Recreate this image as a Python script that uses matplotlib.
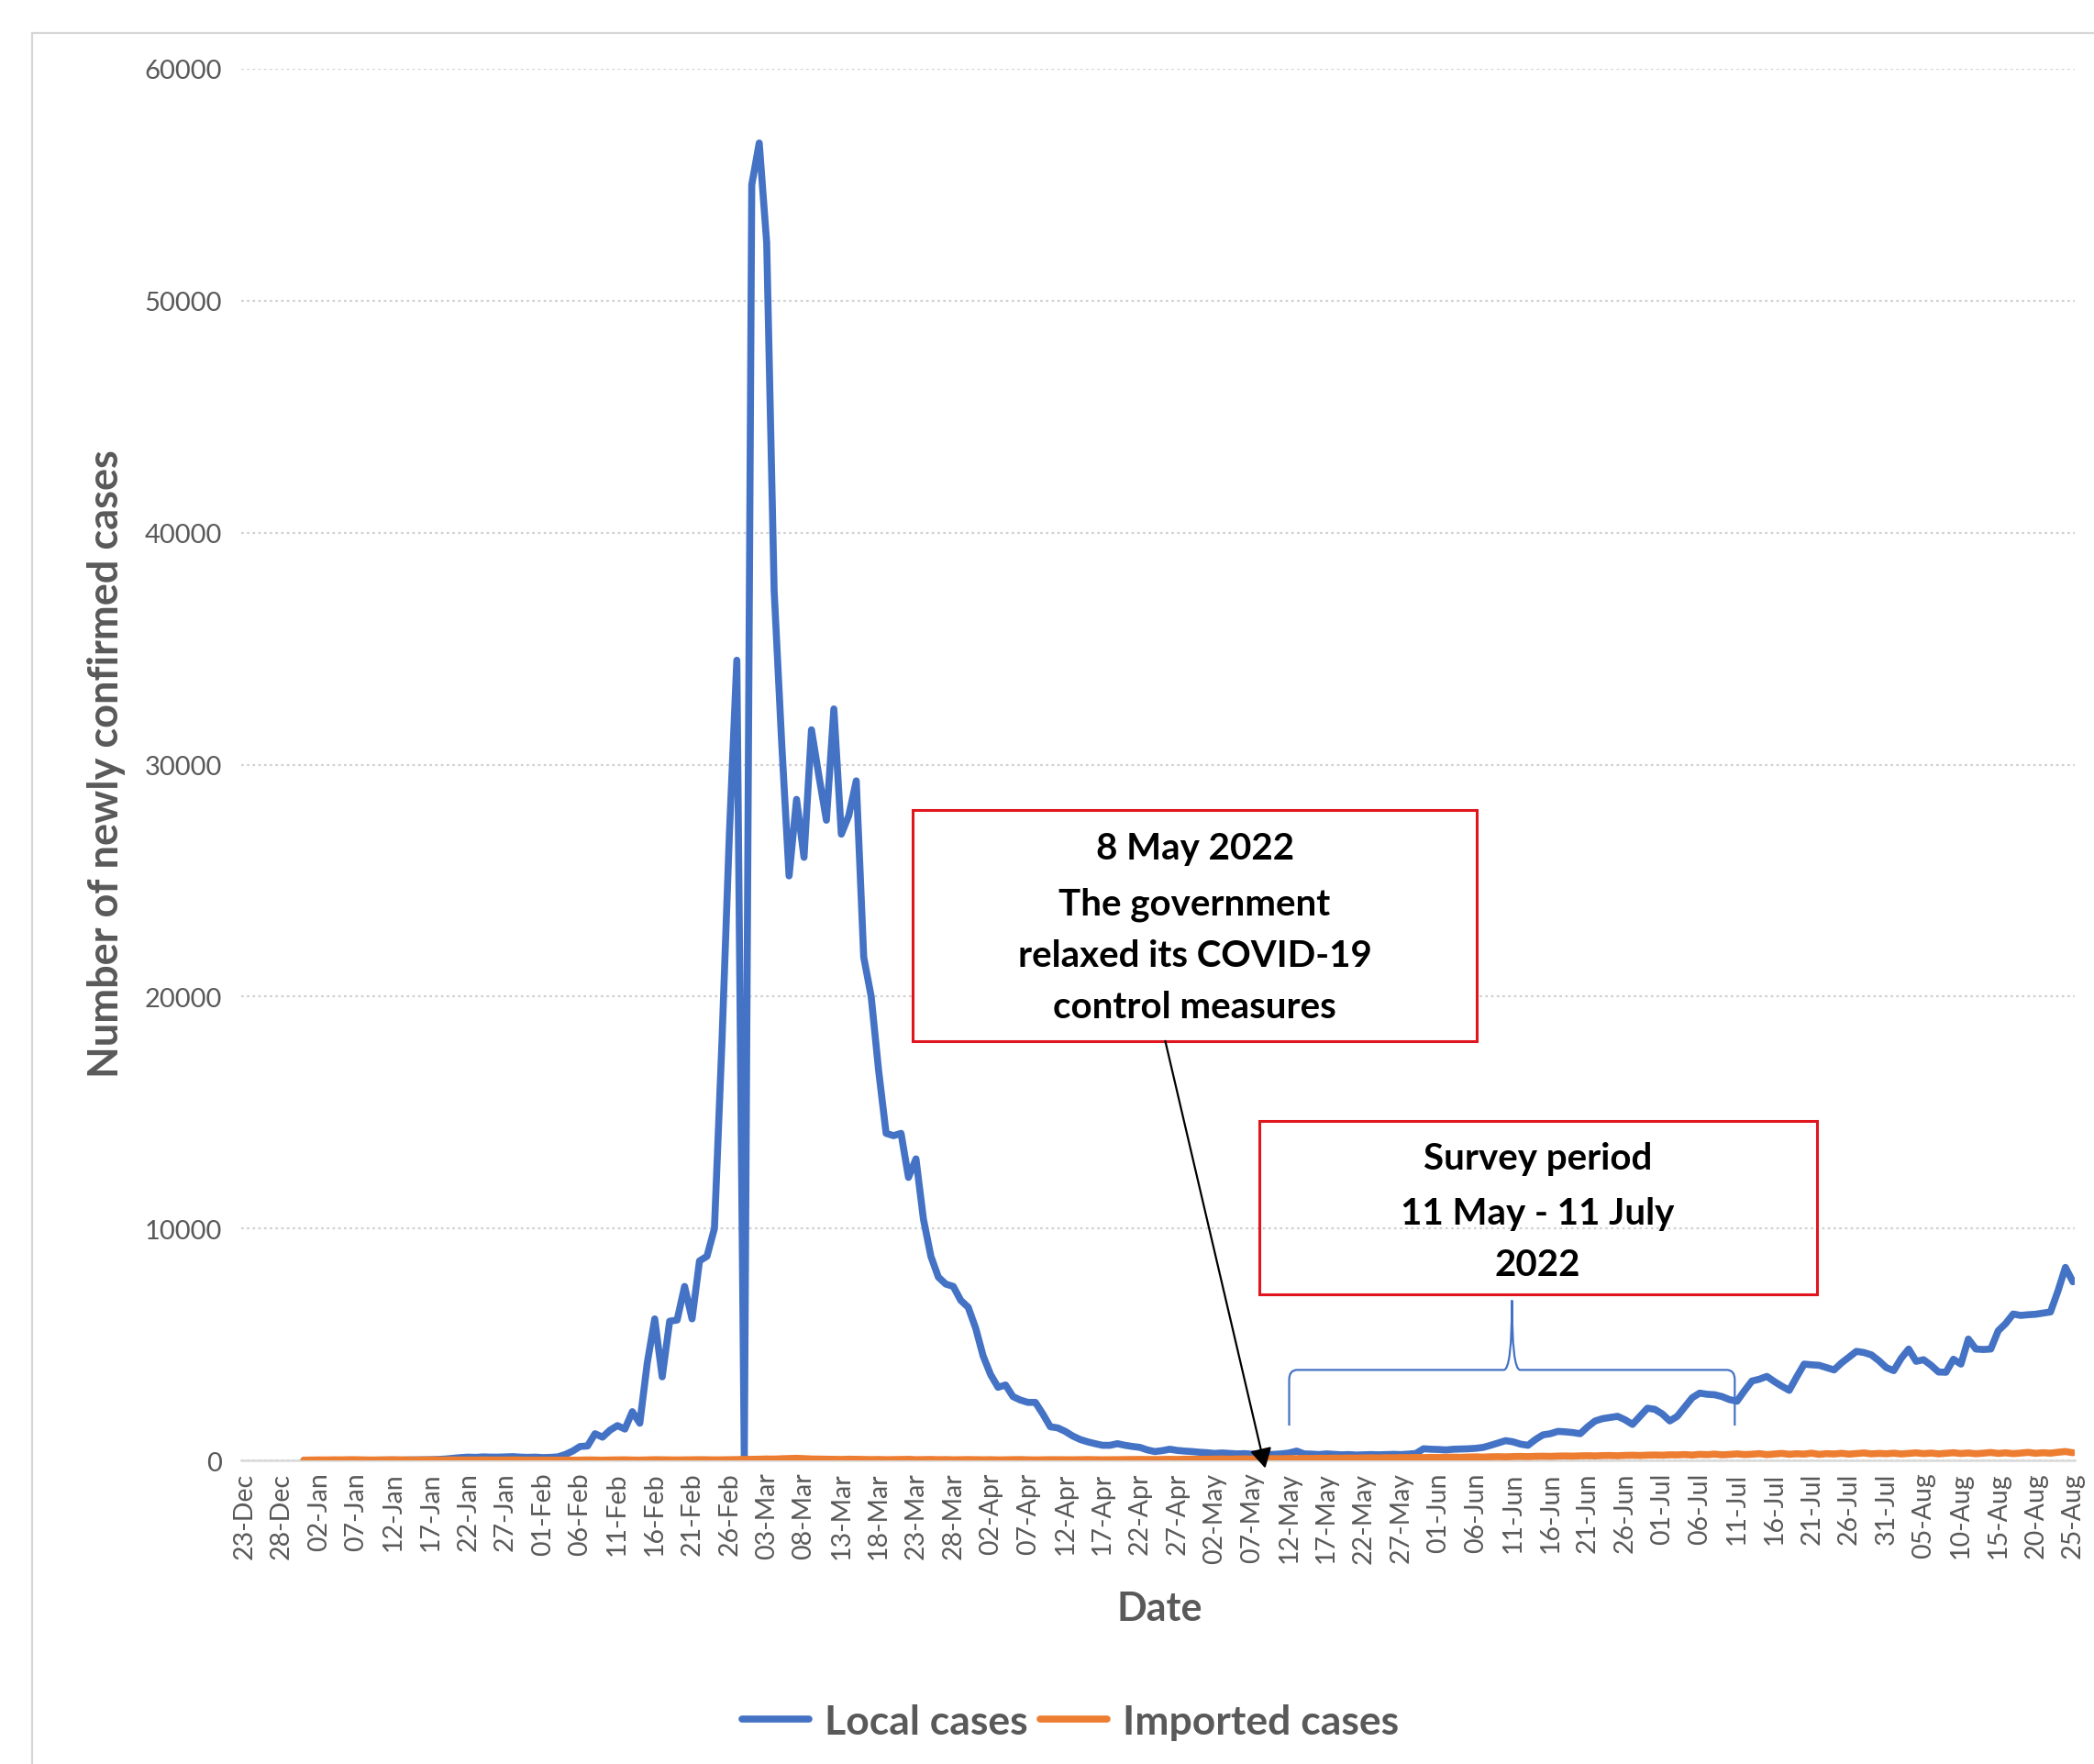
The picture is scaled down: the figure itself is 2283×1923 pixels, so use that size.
import pandas as pd
import matplotlib
matplotlib.use("Agg")
import matplotlib.pyplot as plt
from matplotlib.patches import Rectangle, PathPatch
from matplotlib.path import Path

plt.rcParams['font.family'] = ['Lato', 'DejaVu Sans']

# daily newly confirmed cases, 31 Dec 2021 - 25 Aug 2022
first_day = "2021-12-31"
axis_start = pd.Timestamp("2021-12-23")
axis_end = pd.Timestamp("2022-08-25")

local_dec = [0]
local_jan = [0, 0, 1, 2, 1, 3, 2, 5, 8, 10, 12, 15, 10, 18, 20, 25, 30, 40, 60, 90,
             120, 140, 130, 150, 140, 140, 150, 160, 140, 130, 140]
local_feb = [120, 130, 150, 250, 400, 600, 620, 1150, 1000, 1300, 1500, 1350, 2100, 1600,
             4200, 6100, 3600, 6000, 6050, 7500, 6100, 8600, 8800, 10000, 18000, 27000, 34500, 0]
local_mar = [55000, 56800, 52500, 37500, 31000, 25200, 28500, 26000, 31500, 29500, 27600,
             32400, 27000, 27800, 29300, 21700, 20000, 16800, 14100, 14000, 14100, 12200,
             13000, 10400, 8800, 7900, 7600, 7500, 6900, 6600, 5700]
local_apr = [4500, 3700, 3150, 3250, 2750, 2600, 2500, 2500, 2000, 1450, 1400, 1250, 1050,
             900, 800, 720, 650, 650, 720, 650, 600, 560, 450, 380, 420, 480, 430, 400, 380, 350]
local_may = [330, 300, 320, 300, 280, 290, 270, 260, 250, 260, 280, 320, 400, 280, 270, 250,
             280, 260, 240, 250, 230, 240, 250, 240, 250, 260, 250, 270, 300, 500, 480]
local_jun = [470, 450, 480, 490, 500, 520, 560, 650, 750, 850, 800, 700, 650, 900, 1100, 1150,
             1250, 1230, 1200, 1150, 1450, 1700, 1800, 1850, 1900, 1750, 1550, 1900, 2250, 2200]
local_jul = [2000, 1700, 1900, 2300, 2700, 2900, 2850, 2830, 2750, 2620, 2550, 3000, 3420,
             3500, 3620, 3400, 3200, 3020, 3600, 4150, 4120, 4100, 4000, 3900, 4200, 4450,
             4700, 4650, 4550, 4300, 4000]
local_aug = [3870, 4400, 4800, 4270, 4340, 4100, 3810, 3800, 4360, 4150, 5230, 4800, 4780,
             4800, 5590, 5900, 6310, 6250, 6280, 6300, 6350, 6400, 7300, 8320, 7700]

imp_dec = [10]
imp_jan = [15, 20, 18, 25, 22, 30, 28, 20, 15, 18, 22, 25, 20, 18, 16, 20, 22, 18, 15, 20,
           17, 15, 18, 20, 16, 14, 18, 20, 15, 12, 14]
imp_feb = [10, 12, 8, 15, 10, 12, 20, 15, 10, 18, 22, 25, 15, 12, 20, 30, 25, 20, 18, 22,
           25, 30, 28, 20, 25, 30, 35, 40]
imp_mar = [45, 50, 60, 55, 70, 80, 90, 75, 60, 55, 50, 45, 40, 50, 45, 40, 35, 40, 30, 35,
           40, 45, 30, 35, 40, 30, 35, 25, 30, 35, 30]
imp_apr = [25, 30, 20, 25, 30, 35, 25, 20, 25, 30, 28, 22, 25, 30, 35, 30, 25, 28, 32, 30,
           35, 40, 38, 35, 42, 45, 40, 48, 50, 45]
imp_may = [50, 55, 60, 52, 58, 65, 60, 70, 68, 75, 72, 80, 78, 85, 82, 90, 88, 95, 92, 100,
           98, 105, 110, 102, 115, 110, 120, 118, 125, 120, 130]
imp_jun = [128, 135, 140, 132, 145, 150, 142, 155, 160, 152, 165, 170, 162, 175, 180, 172,
           185, 190, 182, 195, 200, 192, 205, 210, 198, 215, 220, 210, 225, 230]
imp_jul = [222, 240, 235, 250, 228, 260, 245, 270, 238, 255, 280, 250, 265, 290, 248, 275,
           300, 262, 285, 270, 310, 258, 290, 275, 305, 268, 295, 320, 280, 300, 285]
imp_aug = [310, 275, 300, 325, 290, 315, 280, 305, 330, 295, 320, 285, 310, 340, 300, 325,
           290, 315, 345, 305, 330, 310, 350, 380, 330]

local = (local_dec + local_jan + local_feb + local_mar + local_apr + local_may
         + local_jun + local_jul + local_aug)
imported = (imp_dec + imp_jan + imp_feb + imp_mar + imp_apr + imp_may
            + imp_jun + imp_jul + imp_aug)

dates = pd.date_range(first_day, periods=len(local), freq="D")
x = (dates - axis_start).days

tick_dates = pd.date_range(axis_start, axis_end, freq="5D")
tick_pos = (tick_dates - axis_start).days
tick_labels = [d.strftime("%d-%b") for d in tick_dates]

W, H = 2283, 1924
fig = plt.figure(figsize=(W / 100, H / 100), dpi=100)
ax = fig.add_axes([263 / W, 1 - 1593 / H, (2262 - 263) / W, (1593 - 76) / H])

blue = "#4472C4"
orange = "#ED7D31"
grey_txt = "#595959"

l1, = ax.plot(x, local, color=blue, lw=5.5, solid_joinstyle="round",
              solid_capstyle="round", zorder=3, label="Local cases")
l2, = ax.plot(x, imported, color=orange, lw=5.5, solid_joinstyle="round",
              solid_capstyle="round", zorder=4, label="Imported cases")

ax.set_xlim(-0.4, 245.25)
ax.set_ylim(0, 60000)
ax.set_yticks(range(0, 60001, 10000))
ax.set_yticklabels([str(v) for v in range(0, 60001, 10000)], fontsize=21, color=grey_txt)
ax.set_xticks(tick_pos)
ax.set_xticklabels(tick_labels, rotation=90, fontsize=20.5, color=grey_txt)
ax.tick_params(axis="both", length=0)
ax.tick_params(axis="y", pad=15)
ax.tick_params(axis="x", pad=9)

ax.yaxis.grid(True, linestyle=(0, (1.2, 1.6)), color="#D0D0D0", lw=1.6)
ax.set_axisbelow(True)
for s in ["top", "right", "left"]:
    ax.spines[s].set_visible(False)
ax.spines["bottom"].set_color("#D9D9D9")
ax.spines["bottom"].set_linewidth(1.8)
ax.spines["bottom"].set_zorder(2)

fig.text(116 / W, 1 - 833 / H, "Number of newly confirmed cases", rotation=90,
         ha="center", va="center", fontsize=32.5, fontweight="bold", color=grey_txt)
fig.text(1264 / W, 1 - 1754 / H, "Date", ha="center", va="center",
         fontsize=31, fontweight="bold", color=grey_txt)

leg = fig.legend(handles=[l1, l2], loc="center", bbox_to_anchor=(1167 / W, 1 - 1878 / H),
                 ncol=2, frameon=False, handlelength=1.65, handletextpad=0.38,
                 columnspacing=0.3, prop={"size": 32, "weight": "bold"})
for t in leg.get_texts():
    t.set_color(grey_txt)

# outer chart border
fig.add_artist(Rectangle((35 / W, -0.1), 1.2, 1 - 37 / H + 0.1, transform=fig.transFigure,
                         fill=False, ec="#D6D6D6", lw=1.6))

# annotation: relaxation of measures
red = "#E0161E"
ax.add_patch(Rectangle((89.6, 18080), 165.1 - 89.6, 28040 - 18080, fc="white",
                       ec=red, lw=2.2, zorder=6))
box1_lines = ["8 May 2022", "The government", "relaxed its COVID-19", "control measures"]
for txt, yy in zip(box1_lines, [26384, 24011, 21756, 19541]):
    ax.text(127.35, yy, txt, ha="center", va="center", fontsize=29,
            fontweight="bold", color="black", zorder=7)
ax.annotate("", xy=(136.8, -340), xytext=(123.4, 18080),
            arrowprops=dict(arrowstyle="-|>,head_length=0.65,head_width=0.36",
                            color="black", lw=1.6, mutation_scale=20,
                            shrinkA=0, shrinkB=0),
            annotation_clip=False, zorder=8)

# annotation: survey period with brace
ax.add_patch(Rectangle((135.97, 7160), 210.7 - 135.97, 14636 - 7160, fill=False,
                       ec=red, lw=2.2, zorder=6))
box2_lines = ["Survey period", "11 May - 11 July", "2022"]
for txt, yy in zip(box2_lines, [13014, 10660, 8426]):
    ax.text(173.3, yy, txt, ha="center", va="center", fontsize=29,
            fontweight="bold", color="black", zorder=7)

bl, br = 140.0, 199.7
bm = (bl + br) / 2
y_bot, y_h, y_top = 1500, 3900, 6900
rx, ry = 1.1, 420
verts = [(bl, y_bot), (bl, y_h - ry), (bl, y_h), (bl + rx, y_h),
         (bm - rx, y_h), (bm, y_h), (bm, y_top), (bm, y_h), (bm + rx, y_h),
         (br - rx, y_h), (br, y_h), (br, y_h - ry), (br, y_bot)]
codes = [Path.MOVETO, Path.LINETO, Path.CURVE3, Path.CURVE3,
         Path.LINETO, Path.CURVE3, Path.CURVE3, Path.CURVE3, Path.CURVE3,
         Path.LINETO, Path.CURVE3, Path.CURVE3, Path.LINETO]
ax.add_patch(PathPatch(Path(verts, codes), fill=False, ec=blue, lw=1.6, zorder=5))

fig.savefig("out.png", dpi=100, facecolor="white")
